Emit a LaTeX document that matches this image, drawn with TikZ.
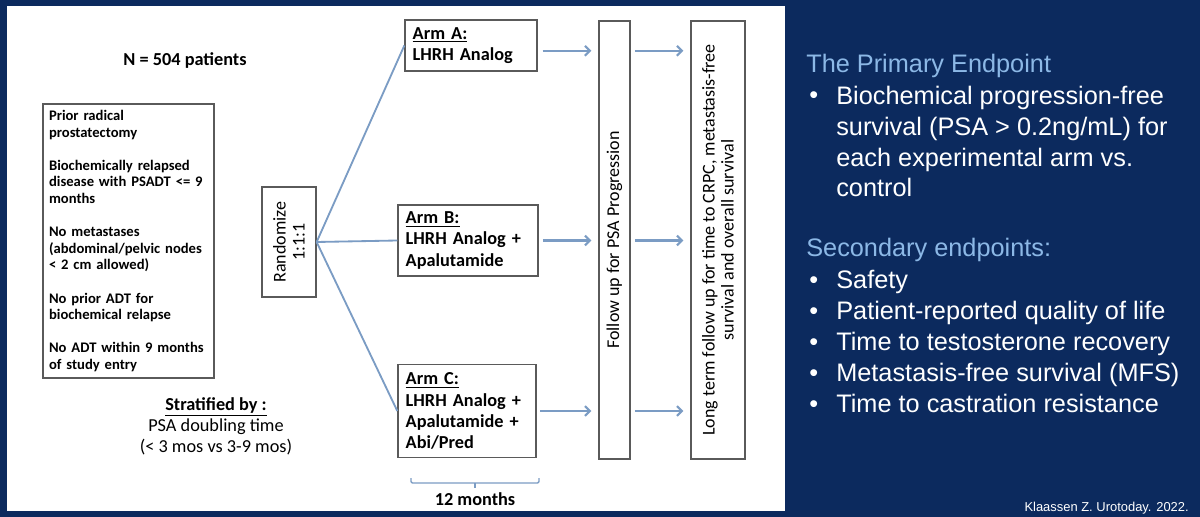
\documentclass[tikz,border=0pt]{standalone}
\usepackage{fontspec}
\setmainfont{Carlito}
\newfontfamily\arialfont{Liberation Sans}
\usetikzlibrary{positioning, arrows.meta, calc}
\definecolor{slidenavy}{HTML}{0C2A5E}
\definecolor{titleblue}{HTML}{8CB8E6}
\definecolor{flowblue}{HTML}{7B9CC4}
\definecolor{boxgray}{HTML}{5A5A5A}

\begin{document}
\begin{tikzpicture}[x=0.025cm, y=-0.025cm,
    critbox/.style={draw=boxgray, line width=0.9pt, minimum width=121.6pt, minimum height=194.9pt,
                    text width=113pt, inner xsep=4.3pt, align=left,
                    font=\bfseries\fontsize{10.4}{11.8}\selectfont},
    armbox/.style={draw=boxgray, line width=0.9pt, inner xsep=5.5pt, align=left,
                   font=\bfseries\fontsize{13}{15}\selectfont},
    tallbox/.style={draw=boxgray, line width=0.9pt, rotate=90, align=center,
                    font=\fontsize{12.8}{13.5}\selectfont},
    fan/.style={flowblue, line width=1.3pt},
    arr/.style={flowblue, line width=1.5pt, -{Straight Barb[length=3.5pt,width=7pt]}},
    heading/.style={anchor=base west, inner sep=0pt, text=titleblue,
                    font=\arialfont\fontsize{18}{22}\selectfont},
    bullet/.style={anchor=base west, inner sep=0pt, text=white, align=left,
                   font=\arialfont\fontsize{18}{22}\selectfont},
]
\useasboundingbox (0,0) rectangle (1200,517);
\fill[slidenavy] (0,0) rectangle (1200,517);
\fill[white] (7,6) rectangle (785,511);

% left: study flow
\node[font=\bfseries\fontsize{13}{15}\selectfont] (npat) at (185,61) {N = 504 patients};
\node[critbox] (crit) at (128.5,241) {
  Prior radical\\prostatectomy\\[11.8pt]
  Biochemically relapsed\\disease with PSADT <= 9\\months\\[11.8pt]
  No metastases\\(abdominal/pelvic nodes\\< 2 cm allowed)\\[11.8pt]
  No prior ADT for\\biochemical relapse\\[11.8pt]
  No ADT within 9 months\\of study entry
};
\node[align=center, font=\fontsize{13}{15}\selectfont] (strat) at (216,426)
  {\textbf{\underline{Stratified by :}}\\PSA doubling time\\(< 3 mos vs 3-9 mos)};

\node[tallbox, minimum width=78.2pt, minimum height=38.4pt] (rand) at (289,242) {Randomize\\1:1:1};

\node[armbox, minimum width=93.9pt, minimum height=36.3pt, text width=82.9pt] (armA) at (471,45.5)
  {\underline{Arm A:}\\LHRH Analog};
\node[armbox, minimum width=99.6pt, minimum height=50.5pt, text width=88.6pt] (armB) at (468,240.5)
  {\underline{Arm B:}\\LHRH Analog +\\Apalutamide};
\node[armbox, minimum width=98.2pt, minimum height=66.2pt, text width=87.2pt] (armC) at (467,411)
  {\underline{Arm C:}\\LHRH Analog +\\Apalutamide +\\Abi/Pred};

\node[tallbox, minimum width=311.6pt, minimum height=22pt] (follow) at (614.5,240)
  {Follow up for PSA Progression};
\node[tallbox, minimum width=311.6pt, minimum height=38.4pt] (longterm) at (718,240)
  {Long term follow up for time to CRPC, metastasis-free\\survival and overall survival};

\draw[fan] (rand.south) -- (armA.west);
\draw[fan] (rand.south) -- (armB.west);
\draw[fan] (rand.south) -- (armC.west);

\draw[arr] ([xshift=3.5pt,yshift=-3.8pt]armA.east) -- ([xshift=-5pt,yshift=-3.8pt]follow.north |- armA.east);
\draw[arr] ([xshift=3pt]armB.east) -- ([xshift=-5pt]follow.north |- armB.east);
\draw[arr] ([xshift=2.5pt]armC.east) -- ([xshift=-5pt]follow.north |- armC.east);
\draw[arr] ([xshift=3pt,yshift=-3.8pt]follow.south |- armA.east) -- ([xshift=-5pt,yshift=-3.8pt]longterm.north |- armA.east);
\draw[arr] ([xshift=3pt]follow.south |- armB.east) -- ([xshift=-5pt]longterm.north |- armB.east);
\draw[arr] ([xshift=3pt]follow.south |- armC.east) -- ([xshift=-5pt]longterm.north |- armC.east);

% 12 month bracket
\draw[flowblue, line width=1pt, rounded corners=1pt] (411,478) -- (411,483) -- (539,483) -- (539,478);
\draw[flowblue, line width=1pt] (475,483) -- (475,488);
\node[font=\bfseries\fontsize{13}{15}\selectfont] (months) at (475,499) {12 months};

% right: endpoints
\node[heading] (primary) at (806,73) {The Primary Endpoint};
\node[bullet] (dotP) at (809,104) {•};
\node[bullet] (prim) at (836,197)
  {Biochemical progression-free\\survival (PSA > 0.2ng/mL) for\\each experimental arm vs.\\control};
\node[heading] (second) at (806,257) {Secondary endpoints:};
\foreach \txt [count=\i] in {Safety, Patient-reported quality of life, Time to testosterone recovery,
    Metastasis-free survival (MFS), Time to castration resistance} {
  \node[bullet] (dot\i) at (809,{257+31*\i}) {•};
  \node[bullet] (sec\i) at (836,{257+31*\i}) {\txt};
}
\node[anchor=base east, inner sep=0pt, text=white, font=\arialfont\fontsize{9.2}{10}\selectfont] (cite)
  at (1189,511) {Klaassen Z. Urotoday. 2022.};
\end{tikzpicture}
\end{document}
